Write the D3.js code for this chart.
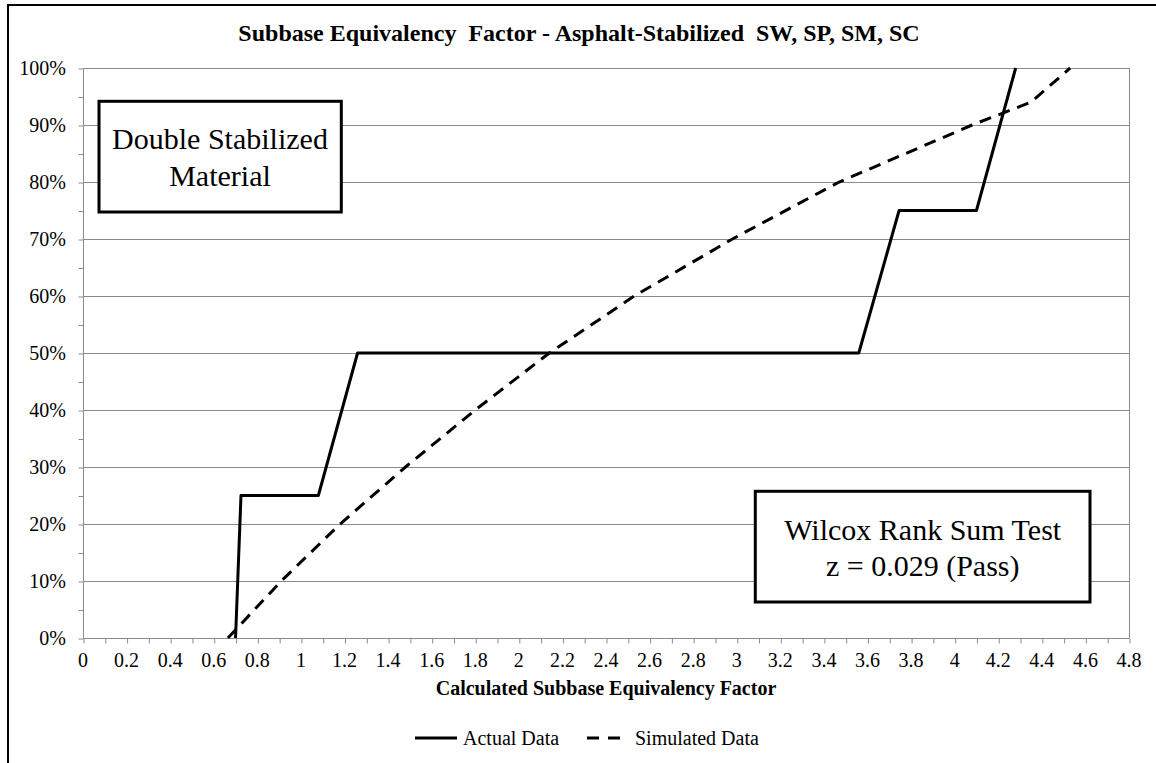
<!DOCTYPE html>
<html><head><meta charset="utf-8">
<script src="https://cdn.jsdelivr.net/npm/d3@7"></script>
<style>
html,body{margin:0;padding:0;background:#fff;}
svg{display:block;}
text{font-family:"Liberation Serif","Times New Roman",serif;fill:#000;}
.pre{white-space:pre;}
</style></head>
<body>
<script>
// ---- data ----
const chartTitle = "Subbase Equivalency  Factor - Asphalt-Stabilized  SW, SP, SM, SC";
const xAxisTitle = "Calculated Subbase Equivalency Factor";
const seriesNames = ["Actual Data", "Simulated Data"];
const xTickValues = [0,0.2,0.4,0.6,0.8,1,1.2,1.4,1.6,1.8,2,2.2,2.4,2.6,2.8,3,3.2,3.4,3.6,3.8,4,4.2,4.4,4.6,4.8];
const xTickLabels = ["0","0.2","0.4","0.6","0.8","1","1.2","1.4","1.6","1.8","2","2.2","2.4","2.6","2.8","3","3.2","3.4","3.6","3.8","4","4.2","4.4","4.6","4.8"];
const yTickValues = [0,10,20,30,40,50,60,70,80,90,100];
const yTickLabels = ["0%","10%","20%","30%","40%","50%","60%","70%","80%","90%","100%"];
const actualX = [0.70, 0.725, 1.08, 1.26, 3.56, 3.745, 4.10, 4.28];
const actualY = [0, 25, 25, 50, 50, 75, 75, 100];
const simX = [0.665, 0.91, 1.18, 1.48, 1.80, 2.14, 2.53, 2.98, 3.47, 4.08, 4.35, 4.53];
const simY = [0, 10, 20, 30, 40, 50, 60, 70, 80, 90, 94, 100];
const box1Lines = ["Double Stabilized", "Material"];
const box2Lines = ["Wilcox Rank Sum Test", "z = 0.029 (Pass)"];

// ---- layout ----
const W = 1156, H = 763;
const L = 83, R = 1129, T = 68, B = 638;
const grid = "#8a8a8a";

const svg = d3.select("body").append("svg").attr("width", W).attr("height", H);

// outer chart border
svg.append("rect").attr("x", 8).attr("y", 5).attr("width", W + 20).attr("height", H + 20)
  .attr("fill", "#fff").attr("stroke", "#000").attr("stroke-width", 2);

const x = d3.scaleLinear().domain([0, 4.8]).range([L, R]);
const y = d3.scaleLinear().domain([0, 100]).range([B, T]);

// gridlines
svg.append("g").selectAll("line").data(yTickValues.filter(v => v > 0)).join("line")
  .attr("x1", L).attr("x2", R)
  .attr("y1", d => Math.round(y(d)) + 0.5).attr("y2", d => Math.round(y(d)) + 0.5)
  .attr("stroke", grid).attr("stroke-width", 1);
// right border of plot
svg.append("line").attr("x1", R + 0.5).attr("x2", R + 0.5).attr("y1", T).attr("y2", B)
  .attr("stroke", grid).attr("stroke-width", 1);

// y axis
const yAxis = d3.axisLeft(y).tickValues(d3.range(0, 101, 5)).tickSize(5).tickFormat("");
const gy = svg.append("g").attr("transform", `translate(${L + 0.5},0.5)`).call(yAxis);
gy.select(".domain").attr("stroke", grid).attr("d", `M0,${T}V${B}`);
gy.selectAll(".tick line").attr("stroke", grid);
svg.append("g").selectAll("text").data(yTickValues).join("text")
  .attr("x", 66).attr("y", d => y(d)).attr("dy", "0.34em")
  .attr("text-anchor", "end").attr("font-size", 20)
  .text((d, i) => yTickLabels[i]);

// x axis
const xAxis = d3.axisBottom(x).tickValues(d3.range(0, 49, 1).map(v => v / 10)).tickSize(5).tickFormat("");
const gx = svg.append("g").attr("transform", `translate(0.5,${B + 0.5})`).call(xAxis);
gx.select(".domain").attr("stroke", grid).attr("d", `M${L},0H${R}`);
gx.selectAll(".tick line").attr("stroke", grid);
svg.append("g").selectAll("text").data(xTickValues).join("text")
  .attr("x", d => x(d)).attr("y", 667)
  .attr("text-anchor", "middle").attr("font-size", 20)
  .text((d, i) => xTickLabels[i]);

// titles
svg.append("text").attr("class", "pre").attr("x", 579).attr("y", 41).attr("text-anchor", "middle")
  .attr("font-size", 24).attr("font-weight", "bold").text(chartTitle);
svg.append("text").attr("x", (L + R) / 2).attr("y", 695).attr("text-anchor", "middle")
  .attr("font-size", 20).attr("font-weight", "bold").text(xAxisTitle);

// series
const line = d3.line().x(d => x(d[0])).y(d => y(d[1]));
svg.append("path").datum(actualX.map((v, i) => [v, actualY[i]])).attr("d", line)
  .attr("fill", "none").attr("stroke", "#000").attr("stroke-width", 3).attr("stroke-linejoin", "round");
svg.append("path").datum(simX.map((v, i) => [v, simY[i]])).attr("d", line)
  .attr("fill", "none").attr("stroke", "#000").attr("stroke-width", 3)
  .attr("stroke-dasharray", "12,8");

// text boxes
function box(x0, y0, w, h, lines, cx, baselines) {
  svg.append("rect").attr("x", x0).attr("y", y0).attr("width", w).attr("height", h)
    .attr("fill", "#fff").attr("stroke", "#000").attr("stroke-width", 3);
  lines.forEach((t, i) => svg.append("text").attr("x", cx).attr("y", baselines[i])
    .attr("text-anchor", "middle").attr("font-size", 30).text(t));
}
box(99, 101.3, 242.3, 110.7, box1Lines, 220, [149, 186]);
box(755.3, 491.3, 334.7, 110.7, box2Lines, 922.7, [540, 576]);

// legend
const lg = svg.append("g");
lg.append("line").attr("x1", 415).attr("x2", 457).attr("y1", 738).attr("y2", 738)
  .attr("stroke", "#000").attr("stroke-width", 3);
lg.append("text").attr("x", 463).attr("y", 745).attr("font-size", 20).text(seriesNames[0]);
lg.append("line").attr("x1", 587).attr("x2", 622).attr("y1", 738).attr("y2", 738)
  .attr("stroke", "#000").attr("stroke-width", 3).attr("stroke-dasharray", "12,9");
lg.append("text").attr("x", 635).attr("y", 745).attr("font-size", 20).text(seriesNames[1]);
</script>
</body></html>
